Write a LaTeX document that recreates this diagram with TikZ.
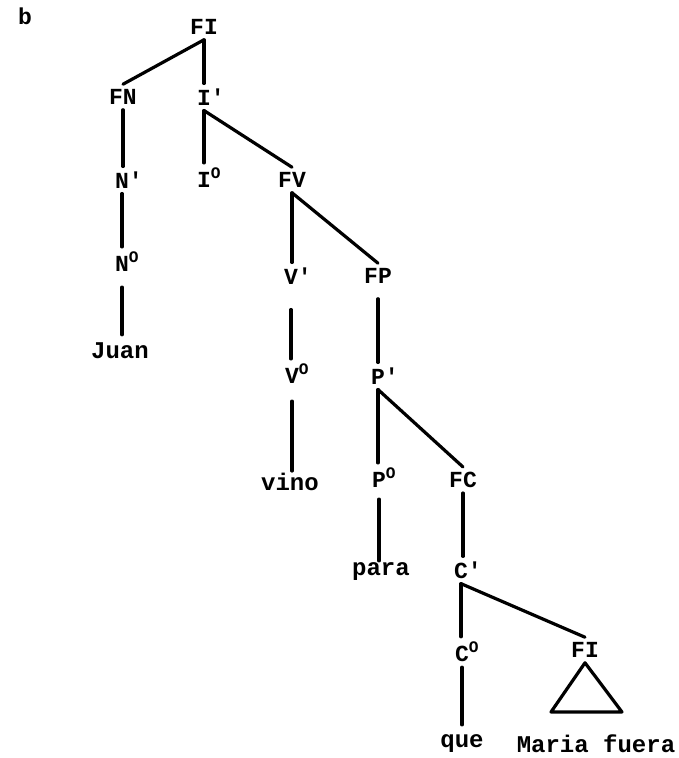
\documentclass[tikz,border=0pt]{standalone}
\usepackage{fontspec}
\setmainfont{Liberation Serif}
\newfontfamily\labfont{Liberation Mono}
\begin{document}
\begin{tikzpicture}[x=1pt,y=-1pt,
  lab/.style={font=\labfont\bfseries\fontsize{23}{23}\selectfont, inner xsep=2pt, inner ysep=5pt},
  word/.style={font=\labfont\bfseries\fontsize{24}{24}\selectfont, inner sep=2pt},
  edge/.style={line width=3.2pt, line cap=round, line join=round}]
\newcommand{\pr}{\rlap{'}}
\newcommand{\zr}{\rlap{\textsuperscript{O}}}
\useasboundingbox (0,0) rectangle (678,758);
\node[lab] (b) at (25,16) {b};
\node[lab] (FI) at (204,27) {FI};
\node[lab] (FN) at (123,97) {FN};
\node[lab] (Ib) at (204,97) {I\pr};
\node[lab] (Nb) at (122,180) {N\pr};
\node[lab] (I0) at (204,178) {I\zr};
\node[lab] (FV) at (292,180) {FV};
\node[lab] (N0) at (122,262) {N\zr};
\node[lab] (Vb) at (291,276) {V\pr};
\node[lab] (FP) at (378,276) {FP};
\node[word] (juan) at (120,351) {Juan};
\node[lab] (V0) at (292,374) {V\zr};
\node[lab] (Pb) at (378,376) {P\pr};
\node[word] (vino) at (290,482) {vino};
\node[lab] (P0) at (379,478) {P\zr};
\node[lab] (FC) at (463,480) {FC};
\node[word] (para) at (381,572) {para};
\node[lab] (Cb) at (461,570) {C\pr};
\node[lab] (C0) at (462,652) {C\zr};
\node[lab] (FI2) at (585,650) {FI};
\node[word] (que) at (462,744) {que};
\node[word] (maria) at (596,744) {Maria fuera};
\coordinate (tl) at (551,712);
\coordinate (tr) at (622,712);
\draw[edge] (FI.south) -- (FN.north);
\draw[edge] (FI.south) -- (FI.south |- Ib.north);
\draw[edge] (Ib.south) -- (I0.north);
\draw[edge] (FN.south) -- (FN.south |- Nb.north);
\draw[edge] (Ib.south) -- (FV.north);
\draw[edge] (Nb.south) -- (N0.north);
\draw[edge] (FV.south) -- (FV.south |- Vb.north);
\draw[edge] (FV.south) -- (FP.north);
\draw[edge, shorten >=6pt, shorten <=10pt] (N0.south) -- (N0.south |- juan.north);
\draw[edge, shorten <=20pt] (Vb.south) -- (Vb.south |- V0.north);
\draw[edge, shorten <=10pt] (FP.south) -- (FP.south |- Pb.north);
\draw[edge, shorten <=12pt] (V0.south) -- (V0.south |- vino.north);
\draw[edge] (Pb.south) -- (Pb.south |- P0.north);
\draw[edge] (Pb.south) -- (FC.north);
\draw[edge, shorten <=6pt] (P0.south) -- (P0.south |- para.north);
\draw[edge] (FC.south) -- (FC.south |- Cb.north);
\draw[edge] (Cb.south) -- (Cb.south |- C0.north);
\draw[edge] (Cb.south) -- (FI2.north);
\draw[edge, shorten >=8pt] (C0.south) -- (C0.south |- que.north);
\draw[edge] (FI2.south) -- (tl) -- (tr) -- cycle;
\end{tikzpicture}
\end{document}
